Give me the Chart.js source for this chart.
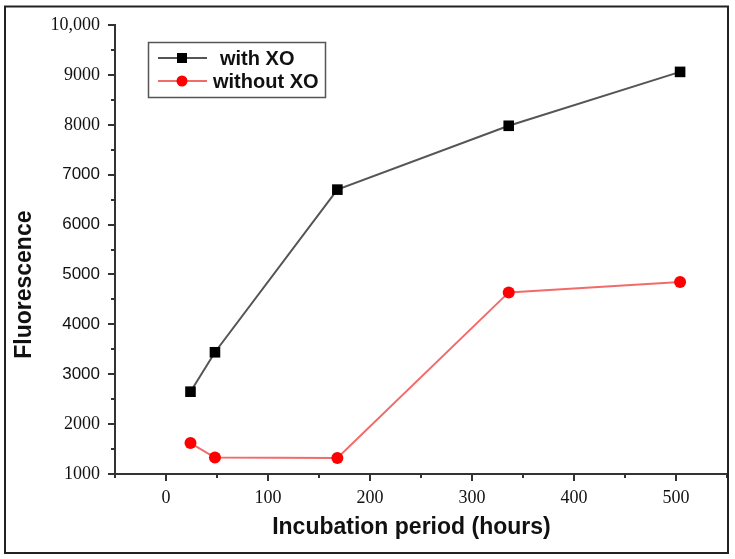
<!DOCTYPE html>
<html>
<head>
<meta charset="utf-8">
<script src="https://cdn.jsdelivr.net/npm/chart.js@4.4.1/dist/chart.umd.min.js"></script>
<style>
  body { margin: 0; background: #fff; }
  canvas { display: block; }
</style>
</head>
<body>
<canvas id="chart" width="735" height="559"></canvas>
<script>
// data
const hours = [24, 48, 168, 336, 504];
const withXO = [2650, 3440, 6700, 7980, 9060];
const withoutXO = [1620, 1330, 1320, 4640, 4850];
const seriesNames = ['with XO', 'without XO'];

const xTicks = [0, 100, 200, 300, 400, 500];
const yTicks = [1000, 2000, 3000, 4000, 5000, 6000, 7000, 8000, 9000, 10000];
const yTickLabels = ['1000', '2000', '3000', '4000', '5000', '6000', '7000', '8000', '9000', '10,000'];
const sansTicks = [3000, 4000, 5000, 6000, 7000]; // these labels look sans-serif in the figure

const serif = '"Liberation Serif", "Times New Roman", serif';
const sans = '"Liberation Sans", Arial, sans-serif';

// small ticks between the labelled ones
const minorTicks = {
    id: 'minorTicks',
    afterDraw(chart) {
        const ctx = chart.ctx;
        const xs = chart.scales.x, ys = chart.scales.y;
        ctx.save();
        ctx.strokeStyle = '#333';
        ctx.lineWidth = 2;
        for (let v = -50; v <= 550; v += 100) {
            const px = Math.round(xs.getPixelForValue(v));
            ctx.beginPath();
            ctx.moveTo(px, xs.top);
            ctx.lineTo(px, xs.top + 4);
            ctx.stroke();
        }
        for (let v = 1500; v < 10000; v += 1000) {
            const py = Math.round(ys.getPixelForValue(v));
            ctx.beginPath();
            ctx.moveTo(ys.right, py);
            ctx.lineTo(ys.right - 4, py);
            ctx.stroke();
        }
        ctx.restore();
    }
};

// boxed legend inside the plot, plus the frame round the figure
const boxLegend = {
    id: 'boxLegend',
    afterDraw(chart) {
        const ctx = chart.ctx;
        ctx.save();
        ctx.strokeStyle = '#222';
        ctx.lineWidth = 2;
        ctx.strokeRect(5, 6.5, 723, 546.5);

        ctx.strokeStyle = '#555';
        ctx.lineWidth = 1.5;
        ctx.strokeRect(148.5, 42.5, 177, 55);

        const rows = [58, 81];
        const textX = [220, 213];
        chart.data.datasets.forEach((ds, i) => {
            const y = rows[i];
            ctx.strokeStyle = ds.borderColor;
            ctx.lineWidth = 2;
            ctx.beginPath();
            ctx.moveTo(158, y);
            ctx.lineTo(207, y);
            ctx.stroke();
            ctx.fillStyle = ds.pointBackgroundColor;
            ctx.beginPath();
            if (ds.pointStyle === 'rect') {
                ctx.rect(177, y - 5, 10, 10);
            } else {
                ctx.arc(182, y, 5.5, 0, Math.PI * 2);
            }
            ctx.fill();
            ctx.fillStyle = '#111';
            ctx.font = 'bold 20px ' + sans;
            ctx.textBaseline = 'middle';
            ctx.textAlign = 'left';
            ctx.fillText(ds.label, textX[i], y + 1);
        });
        ctx.restore();
    }
};

new Chart(document.getElementById('chart'), {
    type: 'line',
    data: {
        datasets: [{
            label: seriesNames[0],
            data: hours.map((h, i) => ({ x: h, y: withXO[i] })),
            borderColor: '#555',
            borderWidth: 2,
            pointStyle: 'rect',
            pointRadius: 7.5,
            pointBackgroundColor: '#000',
            pointBorderWidth: 0,
            tension: 0
        }, {
            label: seriesNames[1],
            data: hours.map((h, i) => ({ x: h, y: withoutXO[i] })),
            borderColor: '#f26b6b',
            borderWidth: 2,
            pointStyle: 'circle',
            pointRadius: 6,
            pointBackgroundColor: '#ff0000',
            pointBorderWidth: 0,
            tension: 0
        }]
    },
    options: {
        responsive: false,
        animation: false,
        layout: { padding: { top: 25, right: 8, left: 0, bottom: 0 } },
        plugins: {
            legend: { display: false },
            tooltip: { enabled: false }
        },
        scales: {
            x: {
                type: 'linear',
                min: -50,
                max: 550,
                afterBuildTicks: axis => { axis.ticks = xTicks.map(v => ({ value: v })); },
                afterFit: axis => { axis.height = 85; },
                border: { color: '#333', width: 2 },
                grid: { drawOnChartArea: false, drawTicks: true, tickLength: 7, color: '#333', lineWidth: 2 },
                ticks: {
                    color: '#111',
                    padding: 6,
                    maxRotation: 0,
                    font: { family: serif, size: 18 }
                },
                title: {
                    display: true,
                    text: 'Incubation period (hours)   ',
                    color: '#111',
                    font: { family: sans, size: 23, weight: 'bold', lineHeight: 1 },
                    padding: { top: 0, bottom: 20 }
                }
            },
            y: {
                min: 1000,
                max: 10000,
                afterBuildTicks: axis => { axis.ticks = yTicks.map(v => ({ value: v })); },
                afterFit: axis => { axis.width = 115; },
                border: { color: '#333', width: 2 },
                grid: { drawOnChartArea: false, drawTicks: true, tickLength: 7, color: '#333', lineWidth: 2 },
                ticks: {
                    color: '#111',
                    padding: 8,
                    callback: v => yTickLabels[yTicks.indexOf(v)],
                    font: c => sansTicks.includes(c.tick && c.tick.value)
                        ? { family: sans, size: 17 }
                        : { family: serif, size: 18 }
                },
                title: {
                    display: true,
                    text: 'Fluorescence           ',
                    color: '#111',
                    font: { family: sans, size: 23, weight: 'bold', lineHeight: 1 },
                    padding: { top: 13, bottom: 0 }
                }
            }
        }
    },
    plugins: [minorTicks, boxLegend]
});
</script>
</body>
</html>
